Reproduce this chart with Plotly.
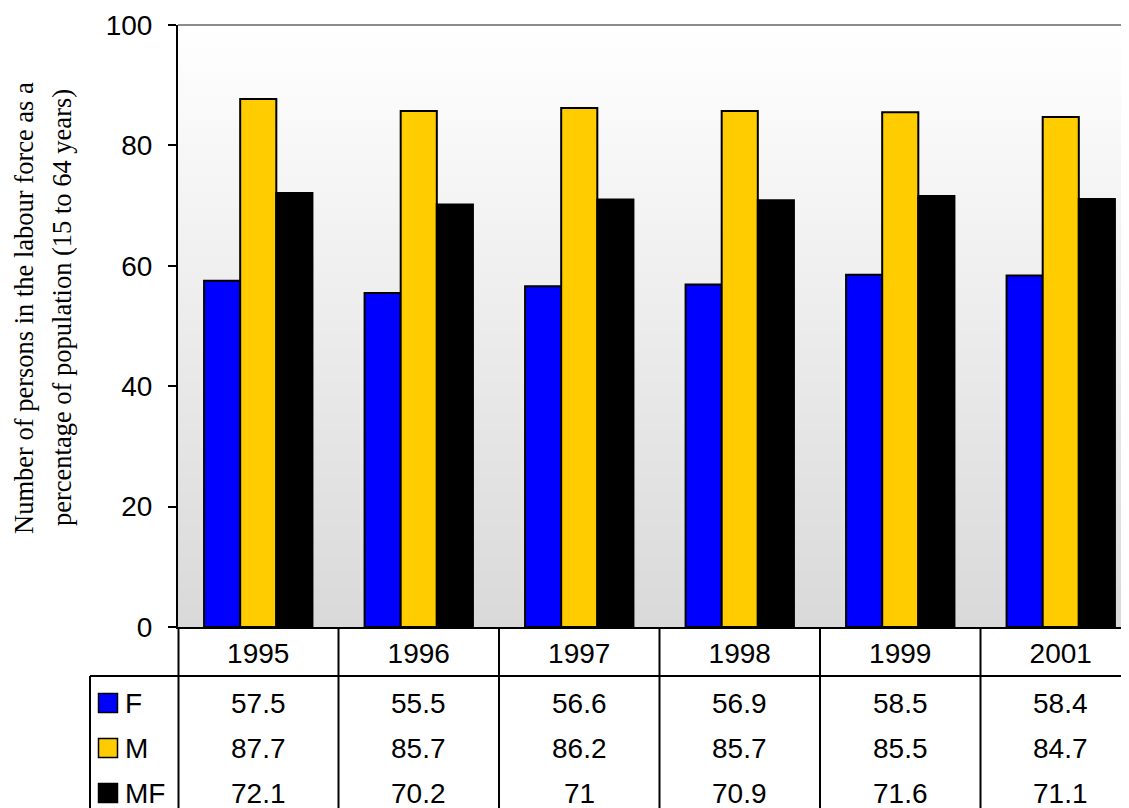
import plotly.graph_objects as go

years = ["1995", "1996", "1997", "1998", "1999", "2001"]
series_names = ["F", "M", "MF"]
f_values = [57.5, 55.5, 56.6, 56.9, 58.5, 58.4]
m_values = [87.7, 85.7, 86.2, 85.7, 85.5, 84.7]
mf_values = [72.1, 70.2, 71, 70.9, 71.6, 71.1]
y_ticks = [0, 20, 40, 60, 80, 100]
y_title_lines = ["Number of persons in the labour force as a",
                 "percentage of population (15 to 64 years)"]

colors = ["#0000FF", "#FFCC00", "#000000"]
series_values = [f_values, m_values, mf_values]

OFF = 8                      # page body margin in the browser
W, H = 1129 - OFF, 808 - OFF
L, T, B_AX = 178, 25, 627    # plot-area pixel edges in the screenshot
PW, PH = 1129 - L, B_AX - T
CAT_W = 160.5


def xp(px):
    return (px - L) / PW


def yp(py):
    return (B_AX - py) / PH


SANS = "Liberation Sans, Arial, sans-serif"
SERIF = "Liberation Serif, Times New Roman, serif"
FS = 28

fig = go.Figure()

# gradient background of plot area
fig.add_trace(go.Heatmap(
    x=[-1, len(years) + 1], y=[0, 100], z=[[0, 0], [1, 1]],
    colorscale=[[0, "#d9d9d9"], [1, "#ffffff"]],
    zsmooth="best", showscale=False, hoverinfo="skip"))

xs = list(range(len(years)))
for name, vals, col in zip(series_names, series_values, colors):
    fig.add_trace(go.Bar(
        x=xs, y=vals, name=name,
        marker=dict(color=col, line=dict(color="#000000", width=2)),
        showlegend=False))

shapes = []
annotations = []

# top gray border
shapes.append(dict(type="line", xref="paper", yref="paper", x0=0, x1=1, y0=1, y1=1,
                   line=dict(color="#8c8c8c", width=2)))

# table lines
bottom = yp(830)
header_bot = yp(676)
shapes.append(dict(type="line", xref="paper", yref="paper", x0=xp(90), x1=1.0,
                   y0=header_bot, y1=header_bot, line=dict(color="black", width=2)))
shapes.append(dict(type="line", xref="paper", yref="paper", x0=xp(90), x1=xp(90),
                   y0=header_bot, y1=bottom, line=dict(color="black", width=2)))
shapes.append(dict(type="line", xref="paper", yref="paper", x0=xp(178.5), x1=xp(178.5),
                   y0=0, y1=bottom, line=dict(color="black", width=2)))
for i in range(1, len(years) + 1):
    shapes.append(dict(type="line", xref="x", yref="paper", x0=i - 0.5, x1=i - 0.5,
                       y0=0, y1=bottom, line=dict(color="black", width=2)))

# table rows
row_centers = [703, 748, 793]
for r, (name, vals, col) in enumerate(zip(series_names, series_values, colors)):
    cy = row_centers[r]
    shapes.append(dict(type="rect", xref="paper", yref="paper",
                       x0=xp(98.5), x1=xp(117.5), y0=yp(cy - 9.5), y1=yp(cy + 9.5),
                       fillcolor=col, line=dict(color="black", width=1.5)))
    annotations.append(dict(xref="paper", yref="paper", x=xp(123), y=yp(cy),
                            text=name, showarrow=False, xanchor="left", yanchor="middle",
                            font=dict(family=SANS, size=FS, color="black")))
    for i, v in enumerate(vals):
        annotations.append(dict(xref="x", yref="paper", x=i, y=yp(cy),
                                text=f"{v:g}", showarrow=False, xanchor="center",
                                yanchor="middle",
                                font=dict(family=SANS, size=FS, color="black")))

# y-axis title (two lines)
for k, (line_txt, cx) in enumerate(zip(y_title_lines, [24, 62])):
    annotations.append(dict(xref="paper", yref="paper", x=xp(cx), y=yp(308),
                            text=line_txt, showarrow=False, textangle=-90,
                            xanchor="center", yanchor="middle",
                            font=dict(family=SERIF, size=26.5, color="black")))

fig.update_layout(
    width=W, height=H,
    margin=dict(l=L - OFF, r=0, t=T - OFF, b=H - (B_AX - OFF), pad=0),
    paper_bgcolor="white", plot_bgcolor="white",
    barmode="group", bargap=0.325, bargroupgap=0,
    shapes=shapes, annotations=annotations,
    showlegend=False,
)
fig.update_xaxes(
    range=[-0.5, -0.5 + PW / CAT_W],
    tickvals=xs, ticktext=years, ticks="",
    tickfont=dict(family=SANS, size=FS, color="black"),
    ticklabelstandoff=0,
    showline=True, linecolor="black", linewidth=2,
    showgrid=False, zeroline=False, fixedrange=True)
fig.update_yaxes(
    range=[0, 100], tickvals=y_ticks, ticks="outside", ticklen=8, tickwidth=2,
    tickcolor="black",
    tickfont=dict(family=SANS, size=FS, color="black"),
    ticklabelstandoff=10,
    showline=True, linecolor="black", linewidth=2,
    showgrid=False, zeroline=False, fixedrange=True)

fig.write_html("out.html")
